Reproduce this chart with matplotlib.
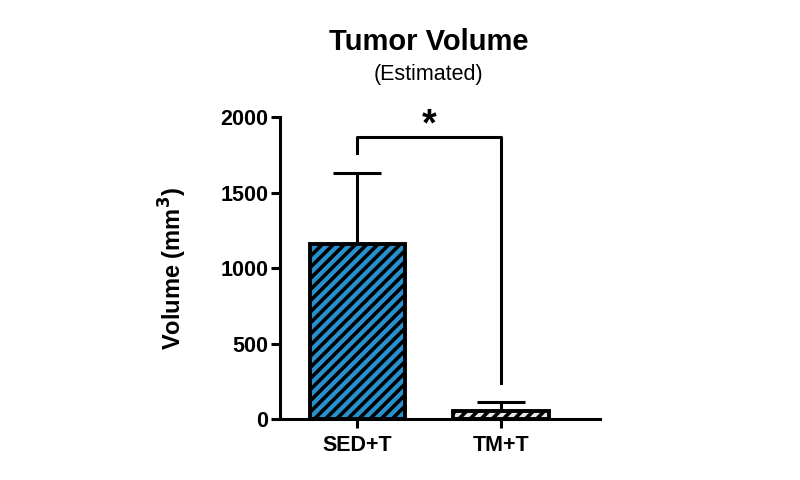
import matplotlib
matplotlib.use("Agg")
import matplotlib.pyplot as plt

categories = ["SED+T", "TM+T"]
means = [1160, 55]
sd_upper = [470, 58]
bar_colors = ["#2791D0", "#e8e8e8"]
yticks = [0, 500, 1000, 1500, 2000]
bracket_top = 1865
bracket_left_end = 1760
bracket_right_end = 240

plt.rcParams["font.family"] = ["Liberation Sans", "DejaVu Sans"]
plt.rcParams["hatch.linewidth"] = 2.6
plt.rcParams["hatch.color"] = "black"

fig = plt.figure(figsize=(8, 4.8), dpi=100)
ax = fig.add_axes([0.35, 0.127, 0.40, 0.629])

x = list(range(len(categories)))
for xi, m, e, c in zip(x, means, sd_upper, bar_colors):
    ax.bar(xi, m, width=0.66, color=c, edgecolor="black", linewidth=2.8,
           hatch="///", zorder=3)
    ax.errorbar(xi, m, yerr=[[0], [e]], fmt="none", ecolor="black",
                elinewidth=2.2, capsize=17, capthick=2.2, zorder=2)

# significance bracket
ax.plot([x[0], x[0], x[1], x[1]],
        [bracket_left_end, bracket_top, bracket_top, bracket_right_end],
        color="black", lw=2.2, clip_on=False, zorder=4)
ax.text((x[0] + x[1]) / 2, bracket_top - 40, "*", ha="center", va="bottom",
        fontsize=27, fontweight="bold", clip_on=False)

ax.set_xlim(-0.535, 1.6875)
ax.set_ylim(0, 2000)
ax.set_yticks(yticks)
ax.set_xticks(x)
ax.set_xticklabels(categories)
for lab in ax.get_xticklabels() + ax.get_yticklabels():
    lab.set_fontweight("bold")
    lab.set_fontsize(15.5)

for s in ["top", "right"]:
    ax.spines[s].set_visible(False)
for s in ["left", "bottom"]:
    ax.spines[s].set_linewidth(2.2)
ax.tick_params(axis="y", width=2.2, length=6.5, direction="out", pad=2)
ax.tick_params(axis="x", width=2.2, length=6.5, direction="out", pad=5)

ax.set_ylabel("Volume (mm$^\\mathbf{3}$)", fontsize=17, fontweight="bold")
ax.yaxis.set_label_coords(-0.285, 0.5)

fig.text(0.536, 0.913, "Tumor Volume", ha="center", va="center",
         fontsize=21, fontweight="bold")
fig.text(0.536, 0.844, "(Estimated)", ha="center", va="center", fontsize=15.5)

fig.savefig("out.png", dpi=100)
